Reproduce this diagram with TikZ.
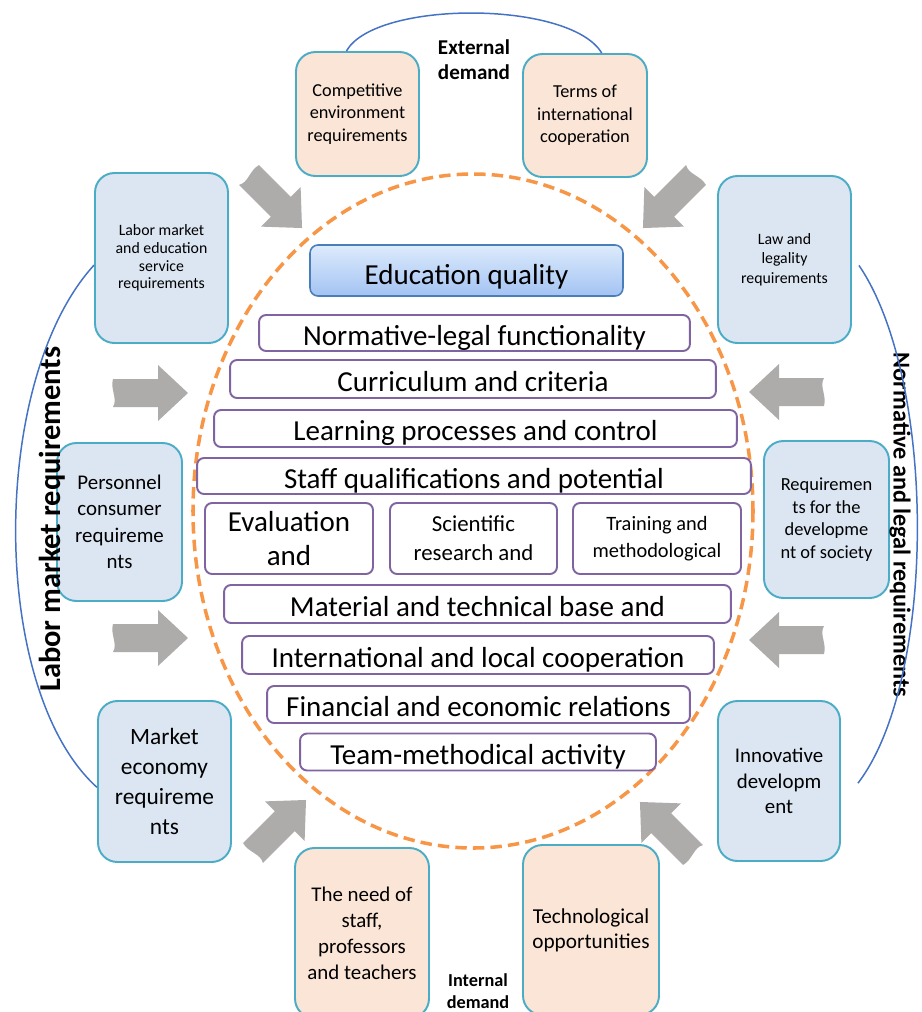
\documentclass[tikz,border=0pt]{standalone}
\usepackage{fontspec}
\setmainfont{Carlito}

\definecolor{reqfill}{HTML}{DCE6F2}
\definecolor{demandfill}{HTML}{FBE5D6}
\definecolor{boxline}{HTML}{4BACC6}
\definecolor{rowline}{HTML}{8064A2}
\definecolor{fieldline}{HTML}{F79646}
\definecolor{bluearc}{HTML}{4472C4}
\definecolor{arrowgray}{HTML}{AEABAB}
\definecolor{qualtop}{HTML}{DDEBFC}
\definecolor{qualbot}{HTML}{A3C3F3}
\definecolor{qualline}{HTML}{4A7EBB}

\tikzset{
  reqbox/.style={draw=boxline, line width=1.1pt, rounded corners=11pt, fill=reqfill, align=center, inner sep=0pt},
  demandbox/.style={reqbox, fill=demandfill},
  cellbox/.style={draw=rowline, line width=1.1pt, rounded corners=4pt, fill=white, align=center, inner sep=0pt},
  rowbox/.style={cellbox, font=\fontsize{16.5}{19.3}\selectfont, text height=13.7pt, text depth=0pt},
  demandarc/.style={draw=bluearc, line width=0.85pt},
  pics/grayarrow/.style={code={
    \fill[arrowgray] (0,-14) -- (45,-14) -- (45,-28) -- (75,0) -- (45,28) -- (45,14) -- (0,14)
      .. controls (5,6) and (-3,-4) .. cycle;
  }}
}

\begin{document}
\begin{tikzpicture}[x=0.02cm, y=-0.02cm]
\useasboundingbox (0,0) rectangle (922,1012);

% quality field
\draw[fieldline, line width=2pt, dash pattern=on 6.5pt off 3.5pt] (473,511) ellipse [x radius=280, y radius=337];

% external and internal demand
\node[demandbox, minimum width=24.6mm, minimum height=24.8mm, font=\fontsize{10.4}{12.8}\selectfont] (compet) at (357.5,114) {Competitive\\environment\\requirements};
\node[demandbox, minimum width=24.8mm, minimum height=24.6mm, font=\fontsize{10.4}{12.8}\selectfont] (terms) at (585,115.5) {Terms of\\international\\cooperation};
\node[demandbox, minimum width=26.8mm, minimum height=34mm, font=\fontsize{11.9}{14.8}\selectfont] (staffneed) at (362,933) {The need of\\staff,\\professors\\and teachers};
\node[demandbox, minimum width=27.2mm, minimum height=34mm, font=\fontsize{12.1}{14.2}\selectfont] (techno) at (591,930) {Technological\\opportunities};
\node[align=center, font=\bfseries\fontsize{12}{14.2}\selectfont] (extlabel) at (474,60) {External\\demand};
\node[align=center, font=\bfseries\fontsize{10.4}{12.5}\selectfont] (intlabel) at (478,991) {Internal\\demand};

% labor market side
\node[reqbox, minimum width=26.6mm, minimum height=34mm, font=\fontsize{9}{10}\selectfont] (labor) at (161.5,258) {Labor market\\and education\\service\\requirements};
\node[reqbox, minimum width=25mm, minimum height=31.6mm, font=\fontsize{11.9}{15.1}\selectfont] (personnel) at (119.5,522) {Personnel\\consumer\\requireme\\nts};
\node[reqbox, minimum width=26.6mm, minimum height=32.2mm, font=\fontsize{13.3}{17}\selectfont] (market) at (164.5,781.5) {Market\\economy\\requireme\\nts};
\node[rotate=90, font=\bfseries\fontsize{17.3}{20}\selectfont] (laborlabel) at (52,519) {Labor market requirements};

% normative side
\node[reqbox, minimum width=26.6mm, minimum height=33.4mm, font=\fontsize{9}{11}\selectfont] (law) at (784.5,259.5) {Law and\\legality\\requirements};
\node[reqbox, minimum width=25mm, minimum height=31.4mm, font=\fontsize{10.5}{12.9}\selectfont] (society) at (826.5,519.5) {Requiremen\\ts for the\\developme\\nt of society};
\node[reqbox, minimum width=24.4mm, minimum height=32mm, font=\fontsize{11.9}{14.5}\selectfont] (innov) at (779,781) {Innovative\\developm\\ent};
\node[rotate=-90, font=\bfseries\fontsize{13.8}{16}\selectfont] (normlabel) at (900,525) {Normative and legal requirements};

% arcs round the groups
\draw[demandarc] (compet.100) .. controls (375,0) and (570,0) .. (terms.75);
\draw[demandarc] (labor.186) .. controls (-11,380) and (-11,690) .. (market.185);
\draw[demandarc] ([xshift=1.4mm]law.-5) .. controls (937,380) and (937,680) .. ([xshift=3.4mm]innov.-2);

% arrows into the field
\pic[rotate=-45] at (249,175) {grayarrow};
\pic[rotate=-135] at (696,175) {grayarrow};
\pic[rotate=45] at (253,853) {grayarrow};
\pic[rotate=135] at (693,855) {grayarrow};
\pic at (113,393) {grayarrow};
\pic at (113,638) {grayarrow};
\pic[rotate=180] at (824,392) {grayarrow};
\pic[rotate=180] at (824,640) {grayarrow};

% inside the field
\node[draw=qualline, line width=0.9pt, rounded corners=4.5pt, top color=qualtop, bottom color=qualbot, minimum width=62.6mm, minimum height=10.2mm, inner sep=0pt, font=\fontsize{16.5}{19}\selectfont, text height=16pt, text depth=0pt] (quality) at (466.5,270.5) {Education quality};
\node[rowbox, minimum width=86.2mm, minimum height=7.2mm] (normative) at (474.5,333) {Normative-legal functionality};
\node[rowbox, minimum width=97.2mm, minimum height=7.6mm] (curriculum) at (473,379) {Curriculum and criteria};
\node[rowbox, minimum width=104.6mm, minimum height=7.4mm] (learning) at (475.5,428.5) {Learning processes and control};
\node[rowbox, minimum width=110.8mm, minimum height=7.2mm] (staff) at (474,476) {Staff qualifications and potential};
\node[cellbox, minimum width=33.6mm, minimum height=14.2mm, font=\fontsize{16.5}{19.3}\selectfont] (evaluation) at (289,538.5) {Evaluation\\and};
\node[cellbox, minimum width=33.4mm, minimum height=14.2mm, font=\fontsize{13}{16.4}\selectfont] (science) at (473.5,538.5) {Scientific\\research and};
\node[cellbox, minimum width=33.6mm, minimum height=14.2mm, font=\fontsize{11.6}{15.3}\selectfont] (training) at (657,538.5) {Training and\\methodological};
\node[rowbox, minimum width=101.4mm, minimum height=7.6mm] (material) at (477.5,604) {Material and technical base and};
\node[rowbox, minimum width=94.4mm, minimum height=7.6mm] (cooperation) at (478,655) {International and local cooperation};
\node[rowbox, minimum width=84.6mm, minimum height=7.4mm] (financial) at (478.5,704.5) {Financial and economic relations};
\node[rowbox, minimum width=71.2mm, minimum height=7.4mm] (team) at (478,752) {Team-methodical activity};
\end{tikzpicture}
\end{document}
